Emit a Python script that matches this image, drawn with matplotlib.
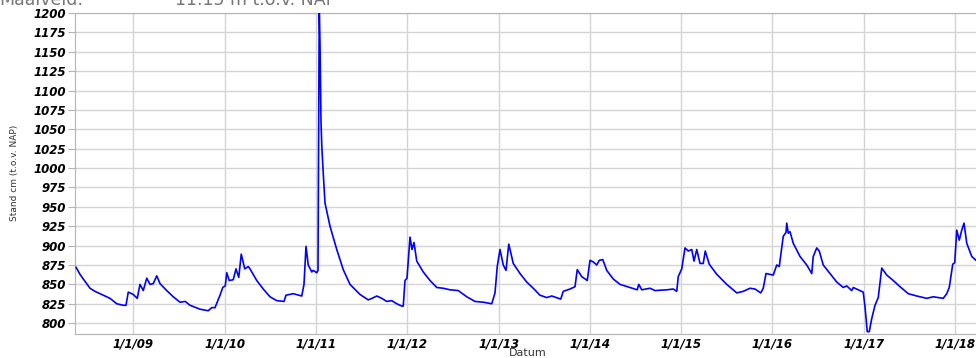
import matplotlib
matplotlib.use("Agg")
import matplotlib.pyplot as plt
import matplotlib.dates as mdates
import pandas as pd

# groundwater level
dates = [
    "2008-05-16", "2008-06-01", "2008-06-14", "2008-07-11", "2008-07-31", "2008-08-20",
    "2008-09-29", "2008-10-26", "2008-11-21", "2008-12-02", "2008-12-11", "2008-12-31",
    "2009-01-16", "2009-01-27", "2009-02-09", "2009-02-23", "2009-03-08", "2009-03-21",
    "2009-04-04", "2009-04-17", "2009-05-14", "2009-06-09", "2009-07-06", "2009-07-27",
    "2009-08-15", "2009-09-24", "2009-10-27", "2009-11-10", "2009-11-23", "2009-12-13",
    "2009-12-24", "2010-01-03", "2010-01-09", "2010-01-19", "2010-02-04", "2010-02-15",
    "2010-02-26", "2010-03-08", "2010-03-22", "2010-04-05", "2010-04-12", "2010-05-09",
    "2010-06-04", "2010-07-01", "2010-07-28", "2010-08-26", "2010-09-03", "2010-10-02",
    "2010-11-05", "2010-11-14", "2010-11-22", "2010-12-01", "2010-12-15", "2010-12-21",
    "2011-01-04", "2011-01-09", "2011-01-14", "2011-01-17", "2011-01-19", "2011-01-21",
    "2011-01-24", "2011-01-30", "2011-02-06", "2011-02-26", "2011-03-25", "2011-04-20",
    "2011-05-17", "2011-06-26", "2011-07-29", "2011-08-13", "2011-09-01", "2011-09-21",
    "2011-10-11", "2011-10-31", "2011-11-20", "2011-12-10", "2011-12-16", "2011-12-23",
    "2011-12-31", "2012-01-12", "2012-01-20", "2012-01-28", "2012-02-08", "2012-03-05",
    "2012-04-01", "2012-04-28", "2012-05-24", "2012-06-20", "2012-07-23", "2012-08-26",
    "2012-09-28", "2012-10-31", "2012-12-04", "2012-12-17", "2012-12-26", "2013-01-06",
    "2013-01-19", "2013-01-30", "2013-02-10", "2013-02-28", "2013-03-27", "2013-04-23",
    "2013-05-19", "2013-06-15", "2013-07-12", "2013-08-01", "2013-09-06", "2013-09-16",
    "2013-10-13", "2013-11-02", "2013-11-11", "2013-11-29", "2013-12-21", "2014-01-01",
    "2014-01-14", "2014-01-28", "2014-02-07", "2014-02-21", "2014-03-09", "2014-04-04",
    "2014-05-01", "2014-06-10", "2014-07-09", "2014-07-15", "2014-07-27", "2014-08-29",
    "2014-09-18", "2014-11-04", "2014-11-30", "2014-12-14", "2014-12-20", "2015-01-03",
    "2015-01-16", "2015-01-29", "2015-02-12", "2015-02-21", "2015-03-04", "2015-03-17",
    "2015-03-30", "2015-04-07", "2015-04-23", "2015-05-23", "2015-07-02", "2015-08-11",
    "2015-09-06", "2015-10-03", "2015-10-23", "2015-11-15", "2015-11-25", "2015-12-06",
    "2016-01-04", "2016-01-18", "2016-01-28", "2016-02-13", "2016-02-24", "2016-02-27",
    "2016-03-04", "2016-03-11", "2016-03-24", "2016-04-20", "2016-05-17", "2016-06-06",
    "2016-06-12", "2016-06-26", "2016-07-06", "2016-07-22", "2016-08-18", "2016-09-14",
    "2016-10-10", "2016-10-24", "2016-11-13", "2016-11-19", "2016-12-16", "2016-12-29",
    "2017-01-05", "2017-01-14", "2017-01-22", "2017-02-01", "2017-02-14", "2017-02-27",
    "2017-03-13", "2017-04-02", "2017-04-28", "2017-05-25", "2017-06-27", "2017-07-31",
    "2017-09-09", "2017-10-05", "2017-11-14", "2017-11-28", "2017-12-08", "2017-12-22",
    "2017-12-30", "2018-01-07", "2018-01-17", "2018-01-27", "2018-02-05", "2018-02-16",
    "2018-03-08", "2018-03-25",
]
stand_cm = [
    872, 863, 857, 845, 841, 838,
    832, 825, 823, 823, 840, 837,
    832, 850, 842, 858, 850, 851,
    861, 851, 842, 834, 827, 828,
    823, 818, 816, 820, 820, 836,
    846, 848, 865, 855, 856, 870,
    859, 889, 870, 873, 870, 855,
    844, 834, 829, 828, 836, 838,
    835, 850, 899, 875, 866, 868,
    865, 868, 1210, 1160, 1110, 1060,
    1030, 993, 955, 925, 895, 869,
    850, 837, 830, 832, 835, 832,
    828, 829, 825, 822, 822, 855,
    858, 911, 895, 904, 880, 866,
    855, 846, 845, 843, 842, 834,
    828, 827, 825, 839, 873, 895,
    875, 868, 902, 877, 864, 853,
    845, 836, 833, 835, 831, 841,
    844, 847, 869, 860, 855, 881,
    879, 875, 881, 882, 868, 857,
    850, 846, 843, 850, 843, 845,
    842, 843, 844, 841, 860, 870,
    897, 893, 895, 880, 895, 877,
    877, 893, 876, 863, 850, 839,
    841, 845, 844, 839, 845, 864,
    862, 875, 873, 912, 917, 929,
    916, 918, 903, 886, 875, 864,
    886, 897, 893, 875, 864, 853,
    846, 848, 842, 846, 842, 840,
    821, 789, 789, 806, 823, 833,
    871, 862, 855, 847, 838, 835,
    832, 834, 832, 838, 846, 876,
    878, 920, 907, 920, 929, 903,
    886, 881,
]
year_ticks = ["2009", "2010", "2011", "2012", "2013", "2014", "2015", "2016", "2017", "2018"]
y_ticks = list(range(800, 1201, 25))

W, H = 976, 358
fig = plt.figure(figsize=(W / 100, H / 100), dpi=100)
ax = fig.add_axes([75 / W, 1 - 334 / H, 1 - 75 / W, (334 - 13) / H])

x = pd.to_datetime(dates)
ax.plot(x, stand_cm, color="#0000ff", lw=1.2, zorder=3)

ax.set_xlim(pd.Timestamp("2008-05-12"), pd.Timestamp("2018-03-25"))
ax.set_ylim(786, 1200)

ax.set_yticks(y_ticks)
xt = [pd.Timestamp(y + "-01-01") for y in year_ticks]
ax.set_xticks(xt)
ax.xaxis.set_major_formatter(mdates.DateFormatter("1/1/%y"))

ax.grid(True, color="#d4d4d4", lw=1.0)
ax.set_axisbelow(True)
for s in ["left", "bottom", "top"]:
    ax.spines[s].set_color("#b4b4b4")
ax.spines["right"].set_visible(False)

ax.tick_params(axis="y", length=5, width=0.8, color="#b4b4b4", pad=1.5)
ax.tick_params(axis="x", length=0, pad=2.5)
for lbl in ax.get_xticklabels() + ax.get_yticklabels():
    lbl.set_fontsize(8.5)
    lbl.set_fontweight("bold")
    lbl.set_fontstyle("italic")
    lbl.set_color("black")

fig.text(15 / W, 1 - 173 / H, "Stand cm (t.o.v. NAP)", rotation=90,
         ha="center", va="center", fontsize=6.5, color="#333333")
fig.text(528 / W, 1 - 353 / H, "Datum", ha="center", va="center",
         fontsize=8, color="#333333")

# header, cut off at the top edge like the reference
fig.text(-1 / W, 1 - 5 / H, "Maaiveld:", ha="left", va="baseline",
         fontsize=12.5, color="#777777")
fig.text(175 / W, 1 - 5 / H, "11.15 m t.o.v. NAP", ha="left", va="baseline",
         fontsize=12.5, color="#777777")

fig.savefig("out.png", dpi=100)
